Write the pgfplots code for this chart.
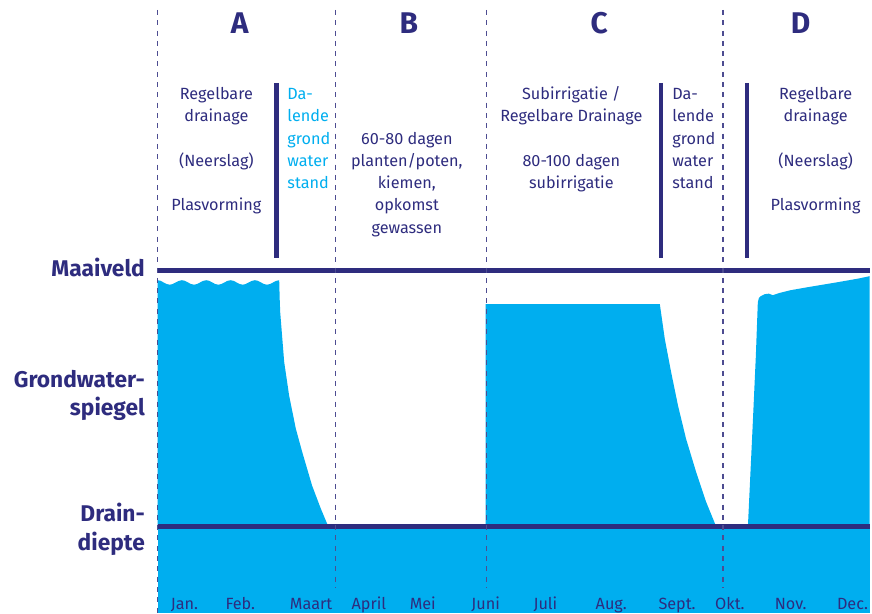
\documentclass[border=0pt]{standalone}
\usepackage{fontspec}
\setmainfont{Fira Sans}
\usepackage{pgfplots}
\pgfplotsset{compat=1.18}
\definecolor{navy}{HTML}{2E2C7E}
\definecolor{water}{HTML}{00AEEF}
\newcommand{\fbody}{\fontsize{12.2}{14}\selectfont}
\newcommand{\fbig}{\bfseries\fontsize{17.1}{19}\selectfont}
\newcommand{\fhuge}{\bfseries\fontsize{22.5}{24}\selectfont}
\newcommand{\LblC}[3]{\node[anchor=base,text=navy,font=\fbody,inner sep=0pt] at (axis cs:#1,#2) {#3};}
\newcommand{\LblL}[4]{\node[anchor=base west,text=#4,font=\fbody,inner sep=0pt] at (axis cs:#1,#2) {#3};}
\newcommand{\LblR}[3]{\node[anchor=base east,text=navy,font=\fbig,inner sep=0pt] at (axis cs:#1,#2) {#3};}
\newcommand{\LblH}[3]{\node[anchor=base,text=navy,font=\fhuge,inner sep=0pt] at (axis cs:#1,#2) {#3};}
\begin{document}
\begin{tikzpicture}
\begin{axis}[
  scale only axis, width=535.5pt, height=461.25pt,
  xmin=158, xmax=872, ymin=0, ymax=615, y dir=reverse,
  axis lines=none, xtick=\empty, ytick=\empty, clip=false]
% page frame
\path (axis cs:0,0) rectangle (axis cs:872,615);
% groundwater areas
\addplot[fill=water, draw=none] coordinates {
 (158,281) (161,281.6) (164,283.2) (167,284.8) (170.2,285.5) (173,284.9) (176,283.4) (179,281.8)
 (182.4,281) (185.4,281.6) (188.4,283.2) (191.4,284.8) (194.6,285.5) (197.4,284.9) (200.4,283.4) (203.4,281.8)
 (206.8,281) (209.8,281.6) (212.8,283.2) (215.8,284.8) (219,285.5) (221.8,284.9) (224.8,283.4) (227.8,281.8)
 (231.2,281) (234.2,281.6) (237.2,283.2) (240.2,284.8) (243.4,285.5) (246.2,284.9) (249.2,283.4) (252.2,281.8)
 (255.6,281) (258.6,281.6) (261.6,283.2) (264.6,284.8) (267.8,285.5) (270.6,284.9) (273.6,283.4) (276.6,281.8)
 (280,281)
 (280.5,300) (281,313) (285,363) (290,397) (296.7,430) (303,453) (313,487)
 (321.7,510) (328,525) (330,529) (158,529)} -- cycle;
\addplot[fill=water, draw=none] coordinates {
 (487,305) (661.7,305) (666.7,340) (673,373) (680,407) (688,440) (698,473)
 (708,503) (717,525) (718,529) (487,529)} -- cycle;
\addplot[fill=water, draw=none] coordinates {
 (750,529) (755,423) (758,357) (760,303) (761,299) (763,297) (767,295) (771,294.5)
 (775,296) (778,295) (781,294) (785,293) (793,291) (810,288) (840,283) (860,279.5)
 (872,277) (872,529)} -- cycle;
\addplot[fill=water, draw=none] coordinates {(158,525) (872,525) (872,615) (158,615)} -- cycle;
% level lines
\addplot[navy, line width=3.75pt] coordinates {(158,271) (872,271)};
\addplot[navy, line width=3.75pt] coordinates {(158,527.5) (872,527.5)};
% period separators
\addplot[navy!85, line width=0.9pt, dash pattern=on 3.75pt off 4pt] coordinates {(158,10) (158,615)};
\addplot[navy!85, line width=0.9pt, dash pattern=on 3.75pt off 4pt] coordinates {(336.5,10) (336.5,590)};
\addplot[navy!85, line width=0.9pt, dash pattern=on 3.75pt off 4pt] coordinates {(487.5,10) (487.5,590)};
\addplot[navy!85, line width=0.9pt, dash pattern=on 3.75pt off 4pt] coordinates {(725,10) (725,590)};
% thick bars
\addplot[navy, line width=3.5pt] coordinates {(277,83) (277,259)};
\addplot[navy, line width=3.5pt] coordinates {(663,83) (663,259)};
\addplot[navy, line width=3.5pt] coordinates {(749,83) (749,259)};
% headings
\LblH{240.5}{34}{A}
\LblH{410}{34}{B}
\LblH{601}{34}{C}
\LblH{803}{34}{D}
% A
\LblC{217}{100}{Regelbare}
\LblC{217}{122.3}{drainage}
\LblC{217}{167}{(Neerslag)}
\LblC{217}{211.5}{Plasvorming}
\LblL{288}{100}{Da-}{water}
\LblL{288}{122.3}{lende}{water}
\LblL{288}{144.6}{grond}{water}
\LblL{288}{166.9}{water}{water}
\LblL{288}{189.2}{stand}{water}
% B
\LblC{408}{144.6}{60-80 dagen}
\LblC{408}{166.9}{planten/poten,}
\LblC{408}{189.2}{kiemen,}
\LblC{408}{211.5}{opkomst}
\LblC{408}{233.8}{gewassen}
% C
\LblC{573}{100}{Subirrigatie /}
\LblC{573}{122.3}{Regelbare Drainage}
\LblC{573}{167}{80-100 dagen}
\LblC{573}{189.2}{subirrigatie}
\LblL{674}{100}{Da-}{navy}
\LblL{674}{122.3}{lende}{navy}
\LblL{674}{144.6}{grond}{navy}
\LblL{674}{166.9}{water}{navy}
\LblL{674}{189.2}{stand}{navy}
% D
\LblC{818}{100}{Regelbare}
\LblC{818}{122.3}{drainage}
\LblC{818}{167}{(Neerslag)}
\LblC{818}{211.5}{Plasvorming}
% left labels
\LblR{145.5}{277.3}{Maaiveld}
\LblR{145.5}{388.3}{Grondwater-}
\LblR{145.5}{416.7}{spiegel}
\LblR{145.5}{523.3}{Drain-}
\LblR{145.5}{551.7}{diepte}
% months
\LblC{185}{611}{Jan.}
\LblC{241}{611}{Feb.}
\LblC{312}{611}{Maart}
\LblC{370}{611}{April}
\LblC{424}{611}{Mei}
\LblC{487}{611}{Juni}
\LblC{547}{611}{Juli}
\LblC{613}{611}{Aug.}
\LblC{679}{611}{Sept.}
\LblC{732}{611}{Okt.}
\LblC{793}{611}{Nov.}
\LblC{855}{611}{Dec.}
\end{axis}
\end{tikzpicture}
\end{document}
